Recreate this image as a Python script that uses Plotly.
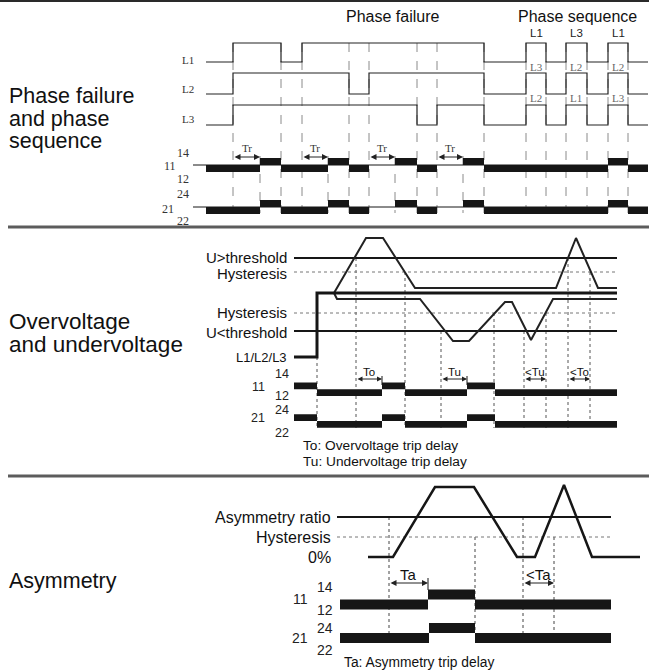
import plotly.graph_objects as go

# ------------------------------------------------------------------
# DATA (time breakpoints on a shared horizontal time scale, states)
# ------------------------------------------------------------------
# Section 1 - phase failure / phase sequence
L1_edges = [206, 233, 281, 302, 484, 526, 546, 566, 587, 608, 628, 648]
L2_edges = [206, 233, 349, 369, 484, 526, 546, 566, 587, 608, 628, 648]
L3_edges = [206, 233, 417, 437, 484, 526, 546, 566, 587, 608, 628, 648]
phase_states = [0, 1, 0, 1, 0, 1, 0, 1, 0, 1, 0]
relay1_edges = [206, 260, 281, 328, 349, 369, 395, 417, 437, 463, 484, 608, 628, 648]
relay1_states = [-1, 1, -1, 1, -1, 0, 1, -1, 0, 1, -1, 1, -1]
tr_start = [233, 302, 369, 437]
tr_end = [260, 328, 395, 463]
phase_marks = [233, 281, 302, 349, 369, 417, 437, 484, 526, 546, 566, 587, 608, 628]
relay1_marks = [260, 328, 395, 463]
seq_top = ["L1", "L3", "L1"]
seq_mid = ["L3", "L2", "L2"]
seq_low = ["L2", "L1", "L3"]
seq_centers = [536, 576, 618]

# Section 2 - over / under voltage
supply_x = [294, 317, 317, 617]
supply_y = [357, 357, 293, 293]
over_x = [334, 366, 383, 415, 556, 576, 598, 617]
over_y = [293, 238, 238, 288, 288, 238, 288, 288]
under_x = [334, 337, 420, 453, 469, 505, 512, 531, 553, 617]
under_y = [293, 299, 299, 341, 341, 302, 302, 340, 299, 299]
volt_levels = [258, 272, 313, 331]
volt_labels = ["U>threshold", "Hysteresis", "Hysteresis", "U<threshold"]
volt_solid = [True, False, False, True]
relay2_edges = [294, 317, 382, 405, 467, 495, 617]
relay2_states = [1, -1, 1, -1, 1, -1]
marks2_x = [317, 356, 405, 441, 494, 524, 546, 568, 590]
marks2_top = [357, 258, 272, 331, 313, 331, 313, 258, 272]
delay2_start = [356, 441, 524, 568]
delay2_end = [382, 467, 546, 590]
delay2_labels = ["To", "Tu", "<Tu", "<To"]

# Section 3 - asymmetry
asym_x = [368, 393, 435, 474, 517, 535, 564, 592, 640]
asym_y = [557, 557, 487, 487, 557, 557, 485, 557, 557]
asym_levels = [517, 537, 557]
asym_labels = ["Asymmetry ratio", "Hysteresis", "0%"]
relay3a_edges = [340, 428, 475, 611]
relay3b_edges = [340, 429, 475, 611]
relay3_states = [-1, 1, -1]
marks3_x = [389, 475, 523, 554]
marks3_top = [517, 537, 517, 537]
delay3_start = [389, 523]
delay3_end = [428, 554]
delay3_labels = ["Ta", "<Ta"]

# ------------------------------------------------------------------
# STYLE
# ------------------------------------------------------------------
SANS = "Liberation Sans, Arial, sans-serif"
NARROW = "Liberation Sans Narrow, Liberation Sans, Arial, sans-serif"
SERIF = "Liberation Serif, DejaVu Serif, serif"
INK = "#161616"

fig = go.Figure()
ann = []


def text(x, y, s, size, family=SANS, xanchor="center", color="#111"):
    ann.append(dict(x=x, y=y, xref="x", yref="y", text=s, showarrow=False,
                    xanchor=xanchor, yanchor="middle", borderpad=0,
                    font=dict(family=family, size=size, color=color)))


def hline(x0, x1, y, width=1, color=INK, dash="solid"):
    fig.add_trace(go.Scatter(x=[x0, x1], y=[y, y], mode="lines",
                             line=dict(width=width, color=color, dash=dash),
                             hoverinfo="skip"))


def verticals(xs, tops, bottom, color="#666", dash="dot", width=1):
    vx, vy = [], []
    for x, t in zip(xs, tops):
        vx += [x, x, None]
        vy += [t, bottom, None]
    fig.add_trace(go.Scatter(x=vx, y=vy, mode="lines",
                             line=dict(width=width, color=color, dash=dash),
                             hoverinfo="skip"))


def step(edges, states, low, high, width=1.2, color="#222"):
    ys = [high if s else low for s in states]
    ys = ys + [ys[-1]]
    fig.add_trace(go.Scatter(x=edges, y=ys, mode="lines", line_shape="hv",
                             line=dict(width=width, color=color), hoverinfo="skip"))


def bars(edges, states, y0, th):
    xs, ys = [], []
    for a, b, s in zip(edges[:-1], edges[1:], states):
        if s == 0:
            continue
        top, bot = (y0 - th, y0) if s > 0 else (y0, y0 + th)
        xs += [a, b, b, a, a, None]
        ys += [top, top, bot, bot, top, None]
    fig.add_trace(go.Scatter(x=xs, y=ys, mode="lines", fill="toself",
                             fillcolor=INK, line=dict(width=0, color=INK),
                             hoverinfo="skip"))


def arrows(starts, ends, y, size=1.3):
    for a, b in zip(starts, ends):
        ann.append(dict(x=b, y=y, ax=a, ay=y, xref="x", yref="y", axref="x", ayref="y",
                        text="", showarrow=True, arrowhead=2, startarrowhead=2,
                        arrowside="end+start", arrowsize=size, arrowwidth=1,
                        arrowcolor="#222", standoff=0, startstandoff=0))


# ---------------- separators ----------------
hline(0, 649, 1, width=2, color="#2a2a2a")
hline(8, 649, 227, width=3, color="#5c5c5c")
hline(8, 649, 476, width=3, color="#5c5c5c")

# ---------------- Section 1 ----------------
for s, y in [("Phase failure", 96), ("and phase", 119), ("sequence", 141)]:
    text(8, y, s, 21.5, xanchor="left")
text(392, 16, "Phase failure", 16)
text(577, 16, "Phase sequence", 16)

verticals(phase_marks, [43] * len(phase_marks), 213, color="#8a8a8a", dash="dash")
verticals(relay1_marks, [156] * len(relay1_marks), 213, color="#8a8a8a", dash="dash")

hline(193, 648, 165, width=1, color=INK)
hline(193, 648, 207, width=1, color=INK)
step(L1_edges, phase_states, 62, 43)
step(L2_edges, phase_states, 94, 73)
step(L3_edges, phase_states, 125, 105)
bars(relay1_edges, relay1_states, 165, 7)
bars(relay1_edges, relay1_states, 207, 7)
arrows(tr_start, tr_end, 157, size=1.2)
for a, b in zip(tr_start, tr_end):
    text((a + b) / 2, 148, "Tr", 11, family=SERIF, color="#333")

for lab, y in [("L1", 60), ("L2", 89), ("L3", 119)]:
    text(188, y, lab, 11, family=SERIF, color="#333")
for lab, x, y in [("14", 183, 153), ("11", 170, 166), ("12", 183, 179),
                  ("24", 183, 194), ("21", 168, 209), ("22", 183, 221)]:
    text(x, y, lab, 12, family=SERIF, color="#333")
for c, a, b, d in zip(seq_centers, seq_top, seq_mid, seq_low):
    text(c, 33, a, 11.5, family=NARROW, color="#222")
    text(c, 67, b, 11, family=SERIF, color="#666")
    text(c, 98, d, 11, family=SERIF, color="#666")

# ---------------- Section 2 ----------------
text(8, 321, "Overvoltage", 22.5, xanchor="left")
text(8, 344, "and undervoltage", 22.5, xanchor="left")

verticals(marks2_x, marks2_top, 428, color="#555", dash="dot")
for y, lab, solid in zip(volt_levels, volt_labels, volt_solid):
    if solid:
        hline(294, 617, y, width=2.2, color=INK)
    else:
        hline(294, 617, y, width=1, color="#777", dash="dot")
ann_y = [257, 273, 312, 332]
for y, lab in zip(ann_y, volt_labels):
    text(288, y, lab, 15, xanchor="right")
text(288, 357, "L1/L2/L3", 13, xanchor="right")

fig.add_trace(go.Scatter(x=over_x, y=over_y, mode="lines",
                         line=dict(width=2, color="#222"), hoverinfo="skip"))
fig.add_trace(go.Scatter(x=under_x, y=under_y, mode="lines",
                         line=dict(width=2, color="#222"), hoverinfo="skip"))
fig.add_trace(go.Scatter(x=supply_x, y=supply_y, mode="lines",
                         line=dict(width=3, color=INK), hoverinfo="skip"))

bars(relay2_edges, relay2_states, 389.3, 6.7)
bars(relay2_edges, relay2_states, 421, 6.7)
arrows(delay2_start, delay2_end, 379, size=1.0)
verticals([delay2_end[0], delay2_end[1]], [376, 376], 385, color=INK, dash="solid")
for a, b, lab in zip(delay2_start, delay2_end, delay2_labels):
    text((a + b) / 2, 372, lab, 11.5, family=NARROW)
for lab, x, y in [("14", 282, 374), ("11", 258, 387), ("12", 282, 395.5),
                  ("24", 282, 409.5), ("21", 258, 418), ("22", 282, 433)]:
    text(x, y, lab, 12.5, family=NARROW, color="#222")
text(302, 445, "To: Overvoltage trip delay", 13.7, family=NARROW, xanchor="left")
text(302, 461, "Tu: Undervoltage trip delay", 13.7, family=NARROW, xanchor="left")

# ---------------- Section 3 ----------------
text(8, 581, "Asymmetry", 21.5, xanchor="left")

verticals(marks3_x, marks3_top, 633, color="#444", dash="dot")
for y, lab in zip(asym_levels, asym_labels):
    if lab == "Asymmetry ratio":
        hline(337, 611, y, width=2, color=INK)
    elif lab == "Hysteresis":
        hline(337, 611, y, width=1, color="#777", dash="dot")
    text(332, y, lab, 16, xanchor="right")
fig.add_trace(go.Scatter(x=asym_x, y=asym_y, mode="lines",
                         line=dict(width=2.5, color=INK), hoverinfo="skip"))
bars(relay3a_edges, relay3_states, 599.5, 10)
bars(relay3b_edges, relay3_states, 633, 10)
arrows(delay3_start, delay3_end, 583, size=1.2)
verticals([delay3_end[0]], [578], 590, color=INK, dash="solid")
for a, b, lab in zip(delay3_start, delay3_end, delay3_labels):
    text((a + b) / 2, 574, lab, 15, family=NARROW)
for lab, x, y in [("14", 325, 587), ("11", 300, 599), ("12", 325, 610),
                  ("24", 325, 628), ("21", 300, 638), ("22", 325, 650)]:
    text(x, y, lab, 14, family=NARROW, color="#222")
text(343, 662, "Ta: Asymmetry trip delay", 13.8, family=NARROW, xanchor="left")

fig.update_layout(
    width=649, height=671,
    margin=dict(l=0, r=0, t=0, b=0),
    paper_bgcolor="white", plot_bgcolor="white",
    showlegend=False,
    xaxis=dict(range=[0, 649], visible=False, fixedrange=True),
    yaxis=dict(range=[671, 0], visible=False, fixedrange=True),
    annotations=ann,
)

fig.write_html("out.html", config={"displayModeBar": False},
               post_script="document.body.style.margin='0';document.body.style.overflow='hidden';")
